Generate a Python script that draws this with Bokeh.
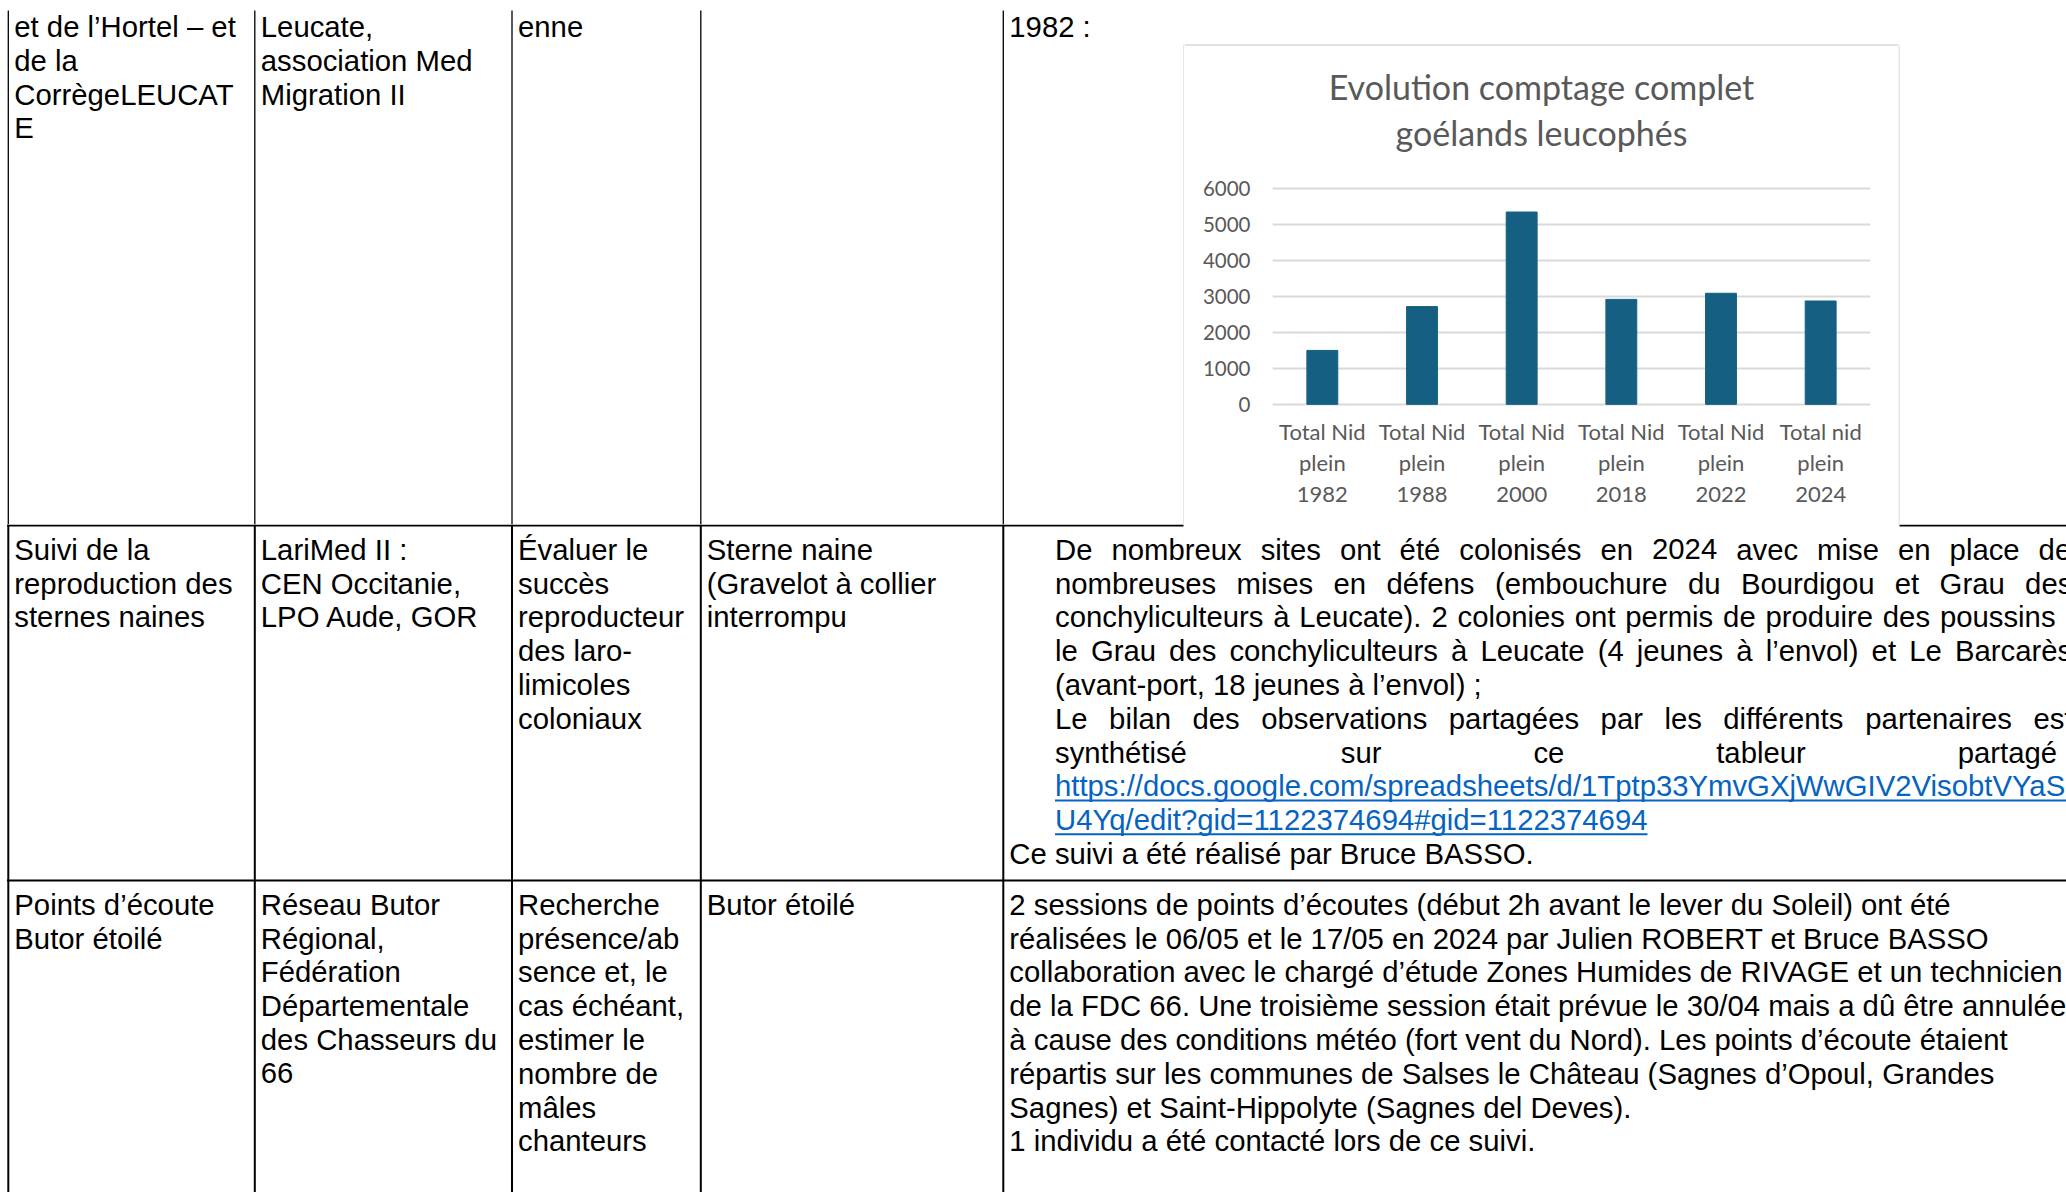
from bokeh.plotting import figure
from bokeh.layouts import row, column
from bokeh.models import Range1d, FactorRange, FixedTicker
from bokeh.core.properties import value
from bokeh.embed import file_html
from bokeh.resources import INLINE

# ---------------- chart data ----------------
categories = ["Total Nid\nplein\n1982", "Total Nid\nplein\n1988", "Total Nid\nplein\n2000",
              "Total Nid\nplein\n2018", "Total Nid\nplein\n2022", "Total nid\nplein\n2024"]
nest_counts = [1500, 2720, 5350, 2920, 3090, 2875]
y_ticks = [0, 1000, 2000, 3000, 4000, 5000, 6000]
title_lines = ["Evolution comptage complet", "go\u00e9lands leucoph\u00e9s"]

# ---------------- table text ----------------
row1_col1 = ["et de l\u2019Hortel \u2013 et", "de la", "Corr\u00e8geLEUCAT", "E"]
row1_col2 = ["Leucate,", "association Med", "Migration II"]
row1_col3 = ["enne"]
row1_col5 = ["1982 :"]

row2_col1 = ["Suivi de la", "reproduction des", "sternes naines"]
row2_col2 = ["LariMed II :", "CEN Occitanie,", "LPO Aude, GOR"]
row2_col3 = ["\u00c9valuer le", "succ\u00e8s", "reproducteur", "des laro-", "limicoles", "coloniaux"]
row2_col4 = ["Sterne naine", "(Gravelot \u00e0 collier", "interrompu"]
row2_just = [
    [("De", 1054.5), ("nombreux", 1110.9), ("sites", 1260.2), ("ont", 1339.4), ("\u00e9t\u00e9", 1399.1),
     ("colonis\u00e9s", 1458.8), ("en", 1599.9), ("2024", 1651.5), ("avec", 1735.7), ("mise", 1816.6),
     ("en", 1897.5), ("place", 1949.1), ("de", 2038.1)],
    [("nombreuses", 1054.5), ("mises", 1236.1), ("en", 1333.0), ("d\u00e9fens", 1386.0),
     ("(embouchure", 1494.4), ("du", 1687.4), ("Bourdigou", 1740.4), ("et", 1894.3), ("Grau", 1939.1),
     ("des", 2024.6)],
    [("conchyliculteurs", 1054.5), ("\u00e0", 1272.7), ("Leucate).", 1298.8), ("2", 1430.9),
     ("colonies", 1457.0), ("ont", 1574.3), ("permis", 1624.8), ("de", 1722.6), ("produire", 1765.0),
     ("des", 1882.3), ("poussins", 1939.4)],
    [("le", 1054.5), ("Grau", 1090.4), ("des", 1168.6), ("conchyliculteurs", 1228.9), ("\u00e0", 1450.5),
     ("Leucate", 1479.9), ("(4", 1597.2), ("jeunes", 1636.3), ("\u00e0", 1735.8), ("l\u2019envol)", 1765.2),
     ("et", 1871.1), ("Le", 1908.7), ("Barcar\u00e8s", 1954.4)],
    [("(avant-port, 18 jeunes \u00e0 l\u2019envol) ;", 1054.5)],
    [("Le", 1054.5), ("bilan", 1108.6), ("des", 1192.0), ("observations", 1260.7), ("partag\u00e9es", 1448.3),
     ("par", 1600.1), ("les", 1663.9), ("diff\u00e9rents", 1722.8), ("partenaires", 1864.8), ("est", 2032.9)],
    [("synth\u00e9tis\u00e9", 1054.5), ("sur", 1340.3), ("ce", 1532.9), ("tableur", 1715.7),
     ("partag\u00e9", 1957.2)],
]
row2_link = ["https://docs.google.com/spreadsheets/d/1Tptp33YmvGXjWwGIV2VisobtVYaS",
             "U4Yq/edit?gid=1122374694#gid=1122374694"]
row2_end = ["Ce suivi a \u00e9t\u00e9 r\u00e9alis\u00e9 par Bruce BASSO."]

row3_col1 = ["Points d\u2019\u00e9coute", "Butor \u00e9toil\u00e9"]
row3_col2 = ["R\u00e9seau Butor", "R\u00e9gional,", "F\u00e9d\u00e9ration", "D\u00e9partementale",
             "des Chasseurs du", "66"]
row3_col3 = ["Recherche", "pr\u00e9sence/ab", "sence et, le", "cas \u00e9ch\u00e9ant,", "estimer le",
             "nombre de", "m\u00e2les", "chanteurs"]
row3_col4 = ["Butor \u00e9toil\u00e9"]
row3_col5 = [
    "2 sessions de points d\u2019\u00e9coutes (d\u00e9but 2h avant le lever du Soleil) ont \u00e9t\u00e9",
    "r\u00e9alis\u00e9es le 06/05 et le 17/05 en 2024 par Julien ROBERT et Bruce BASSO",
    "collaboration avec le charg\u00e9 d\u2019\u00e9tude Zones Humides de RIVAGE et un technicien",
    "de la FDC 66. Une troisi\u00e8me session \u00e9tait pr\u00e9vue le 30/04 mais a d\u00fb \u00eatre annul\u00e9e",
    "\u00e0 cause des conditions m\u00e9t\u00e9o (fort vent du Nord). Les points d\u2019\u00e9coute \u00e9taient",
    "r\u00e9partis sur les communes de Salses le Ch\u00e2teau (Sagnes d\u2019Opoul, Grandes",
    "Sagnes) et Saint-Hippolyte (Sagnes del Deves).",
    "1 individu a \u00e9t\u00e9 contact\u00e9 lors de ce suivi.",
]

FONT = "Liberation Sans"
FS = "29.3px"
LH = 33.8
SHIFT = 10.5          # text y is given at the middle of the caps (baseline - SHIFT)
COLS = [7.8, 254.3, 511.5, 700.3, 1002.8]
TX = [c + 6 for c in COLS]
BOX = "#D9D9D9"
GREY = "#595959"


def tile(w, h, x0, x1, y0, y1):
    f = figure(width=w, height=h, x_range=Range1d(x0, x1), y_range=Range1d(y1, y0),
               x_axis_type=None, y_axis_type=None, output_backend="svg", toolbar_location=None,
               min_border=0, outline_line_color=None, frame_align=False,
               background_fill_color="white", border_fill_color="white")
    return f


def put_lines(f, x, base0, lines, color="black"):
    ys = [base0 - SHIFT + i * LH for i in range(len(lines))]
    f.text(x=[x] * len(lines), y=ys, text=lines, text_font=value(FONT), text_font_size=FS,
           text_color=color, text_baseline="alphabetic", text_align="left")


# ---------------- top-left tile (row 1) ----------------
tl = tile(1184, 524, 0, 1184, 0, 524)
tl.segment(x0=COLS, y0=[10] * 5, x1=COLS, y1=[524] * 5, line_color="black", line_width=1.3)
tl.segment(x0=[1183.5], y0=[44], x1=[1183.5], y1=[524], line_color=BOX, line_width=1.3)
R1 = 36.5
put_lines(tl, TX[0], R1, row1_col1)
put_lines(tl, TX[1], R1, row1_col2)
put_lines(tl, TX[2], R1, row1_col3)
put_lines(tl, TX[4], R1, row1_col5)

# ---------------- top-right tile ----------------
tr = tile(168, 524, 1898, 2066, 0, 524)
tr.segment(x0=[1898.5], y0=[44], x1=[1898.5], y1=[524], line_color=BOX, line_width=1.3)

# ---------------- chart box top (title) and bottom edge ----------------
ctop = tile(714, 160, 1184, 1898, 0, 160)
ctop.segment(x0=[1184], y0=[44.5], x1=[1898], y1=[44.5], line_color=BOX, line_width=1.3)
ctop.text(x=[1541, 1541], y=[86, 131.5], text=title_lines, text_font=value("Lato"),
          text_font_size="34px", text_color=GREY, text_align="center", text_baseline="alphabetic")
cbot = tile(714, 2, 1184, 1898, 522, 524)
cbot.segment(x0=[1184], y0=[522.8], x1=[1898], y1=[522.8], line_color=BOX, line_width=1.3)

# ---------------- chart ----------------
cf = figure(width=714, height=362, x_range=FactorRange(factors=categories),
            y_range=Range1d(-60, 6060), output_backend="svg", toolbar_location=None,
            min_border_left=88, min_border_right=28, min_border_top=26, min_border_bottom=116,
            outline_line_color=None, frame_align=False,
            background_fill_color="white", border_fill_color="white")
cf.vbar(x=categories, top=nest_counts, width=0.31, color="#156082")
cf.xgrid.grid_line_color = None
cf.ygrid.ticker = FixedTicker(ticks=y_ticks)
cf.ygrid.grid_line_color = BOX
cf.ygrid.grid_line_width = 1.8
cf.yaxis.ticker = FixedTicker(ticks=y_ticks)
for ax in (cf.xaxis, cf.yaxis):
    ax.axis_line_color = None
    ax.major_tick_line_color = None
    ax.minor_tick_line_color = None
    ax.major_tick_out = 0
    ax.major_tick_in = 0
    ax.major_label_text_font = "Lato"
    ax.major_label_text_color = GREY
cf.yaxis.major_label_text_font_size = "20.5px"
cf.yaxis.major_label_standoff = 22
cf.xaxis.major_label_text_font_size = "22px"
cf.xaxis.major_label_standoff = 11
cf.xaxis.major_label_text_line_height = 1.165

# ---------------- bottom tile (rows 2 and 3) ----------------
bt = tile(2066, 668, 0, 2066, 524, 1192)
bt.segment(x0=[6.5, 1899], y0=[525, 525], x1=[1183, 2066], y1=[525, 525], line_color="black", line_width=2.2)
bt.segment(x0=[6.5], y0=[880], x1=[2066], y1=[880], line_color="black", line_width=2.2)
bt.segment(x0=COLS, y0=[524] * 5, x1=COLS, y1=[1192] * 5, line_color="black", line_width=2)

R2 = 559.3
put_lines(bt, TX[0], R2, row2_col1)
put_lines(bt, TX[1], R2, row2_col2)
put_lines(bt, TX[2], R2, row2_col3)
put_lines(bt, TX[3], R2, row2_col4)
wx, wy, wt = [], [], []
for i, words in enumerate(row2_just):
    for w, x in words:
        wx.append(x)
        wy.append(R2 - SHIFT + i * LH)
        wt.append(w)
bt.text(x=wx, y=wy, text=wt, text_font=value(FONT), text_font_size=FS, text_color="black",
        text_baseline="alphabetic", text_align="left")
LINK = "#0563C1"
put_lines(bt, 1054.5, R2 + 7 * LH, row2_link, color=LINK)
bt.segment(x0=[1054.5, 1054.5], y0=[R2 + 7 * LH + 4, R2 + 8 * LH + 4],
           x1=[2066, 1647], y1=[R2 + 7 * LH + 4, R2 + 8 * LH + 4], line_color=LINK, line_width=2)
put_lines(bt, TX[4], R2 + 9 * LH, row2_end)

R3 = 914.3
put_lines(bt, TX[0], R3, row3_col1)
put_lines(bt, TX[1], R3, row3_col2)
put_lines(bt, TX[2], R3, row3_col3)
put_lines(bt, TX[3], R3, row3_col4)
put_lines(bt, TX[4], R3, row3_col5)

page = column(row(tl, column(ctop, cf, cbot), tr), bt)
open("out.html", "w").write(file_html(page, INLINE, "Evolution comptage complet"))
